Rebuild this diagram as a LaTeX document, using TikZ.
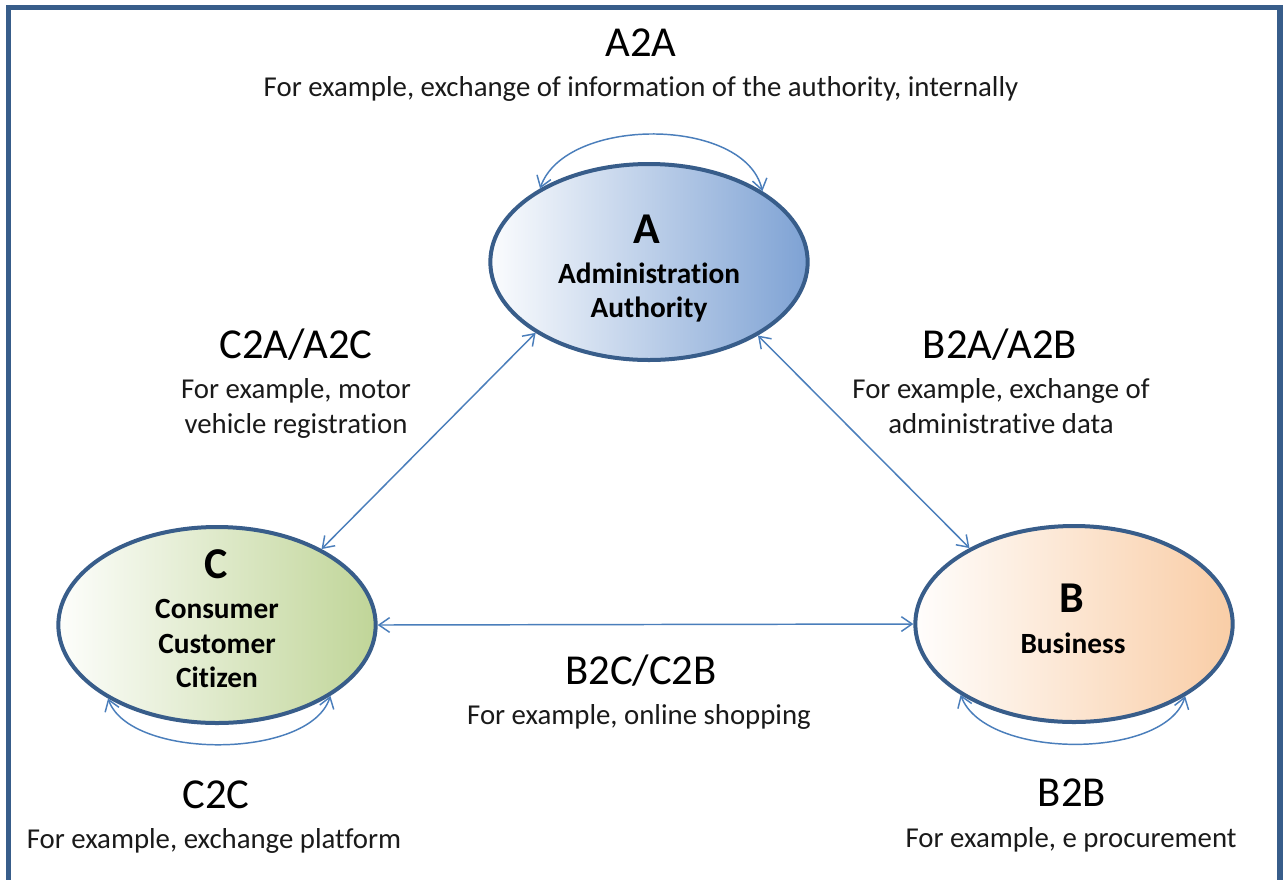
\documentclass[tikz,border=0pt]{standalone}
\usepackage{fontspec}
\setmainfont{Carlito}[Ligatures={NoCommon}]
\usetikzlibrary{shapes.geometric,arrows.meta}
\definecolor{outline}{HTML}{385D8A}
\definecolor{conncol}{HTML}{4A7EBB}
\definecolor{blueR}{HTML}{7EA2D4}
\definecolor{greenR}{HTML}{C0D598}
\definecolor{peachR}{HTML}{F9CDA6}
\definecolor{txt}{HTML}{1A1A1A}
\tikzset{
  ell/.style={ellipse, draw=outline, line width=3pt, minimum width=238pt, minimum height=147pt, inner sep=0pt},
  conn/.style={draw=conncol, line width=1.1pt, {Straight Barb[length=8pt,width=11pt]}-{Straight Barb[length=8pt,width=11pt]}},
  head/.style={anchor=base, text=black, font=\fontsize{32pt}{38pt}\selectfont},
  body/.style={anchor=base, text=txt, font=\fontsize{21.6pt}{26pt}\selectfont},
  big/.style={anchor=base, text=black, font=\fontsize{33pt}{38pt}\selectfont\bfseries},
  lab/.style={anchor=base, text=black, font=\fontsize{22pt}{26pt}\selectfont\bfseries},
}
\begin{document}
\begin{tikzpicture}[x=0.75pt,y=-0.75pt]
\useasboundingbox (0,0) rectangle (1284,879);
\fill[white] (0,0) rectangle (1284,879);
\draw[outline, line width=4pt] (8.5,890) -- (8.5,7.5) -- (1280,7.5) -- (1280,890);

\node[ell, left color=white!97!blueR, middle color=white!68!blueR, right color=blueR] (A) at (649,262) {};
\node[ell, left color=white!97!greenR, middle color=white!68!greenR, right color=greenR] (C) at (217,625) {};
\node[ell, left color=white!97!peachR, middle color=white!68!peachR, right color=peachR] (B) at (1074,624) {};

\node[big] (Al) at (647,243) {A};
\node[lab] (Al1) at (649,283) {Administration};
\node[lab] (Al2) at (649,317) {Authority};
\node[big] (Cl) at (216,578) {C};
\node[lab] (Cl1) at (217,618) {Consumer};
\node[lab] (Cl2) at (217,653) {Customer};
\node[lab] (Cl3) at (217,687) {Citizen};
\node[big] (Bl) at (1072,612) {B};
\node[lab] (Bl1) at (1073,653) {Business};

\draw[conn] (A.212) -- (C.36);
\draw[conn] (A.-34) -- (B.144);
\draw[conn] (C.east) -- (B.west);
\draw[conn] (A.146) .. controls (565,116) and (745,116) .. (A.32);
\draw[conn] (C.214) .. controls (130,760) and (310,760) .. (C.-32);
\draw[conn] (B.212) .. controls (985,760) and (1165,760) .. (B.-33);

\node[head] (h1) at (641,56) {A2A};
\node[body] (b1) at (641,96) {For example, exchange of information of the authority, internally};
\node[head] (h2) at (296,358) {C2A/A2C};
\node[body] (b2a) at (296,398) {For example, motor};
\node[body] (b2b) at (296,433) {vehicle registration};
\node[head] (h3) at (1000,358) {B2A/A2B};
\node[body] (b3a) at (1001,398) {For example, exchange of};
\node[body] (b3b) at (1001,433) {administrative data};
\node[head] (h4) at (641,684) {B2C/C2B};
\node[body] (b4) at (639,724) {For example, online shopping};
\node[head] (h5) at (216,808) {C2C};
\node[body] (b5) at (214,848) {For example, exchange platform};
\node[head] (h6) at (1072,806) {B2B};
\node[body] (b6) at (1071,847) {For example, e procurement};
\end{tikzpicture}
\end{document}
